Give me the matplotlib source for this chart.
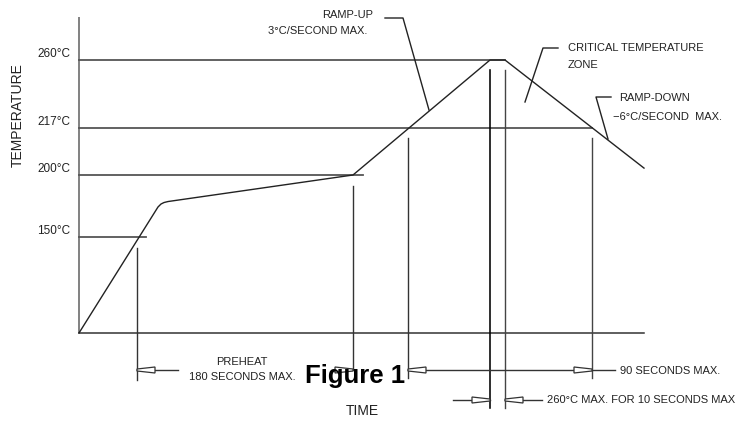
import numpy as np
import matplotlib
matplotlib.use('Agg')
import matplotlib.pyplot as plt
import matplotlib.transforms as mtransforms
from matplotlib.patches import Polygon

# ---------------- data ----------------
# schematic temperature levels and labels
level_temps = [260, 217, 200, 150]
level_labels = ['260°C', '217°C', '200°C', '150°C']
level_ends = [426, 513, 284, 67]          # time (schematic units) where each reference line stops

# reflow profile (schematic time units, °C)
profile_time = [0, 79, 82, 85, 89, 274, 411, 426, 565]
profile_temp = [25, 174.2, 176.6, 177.8, 178.6, 200, 260, 260, 202.5]

# vertical marker times
t_preheat_start, t_preheat_end = 58, 274
t_liq_start, t_liq_end = 329, 513
t_peak_start, t_peak_end = 411, 426

# diagram (non-linear) temperature axis: temperature -> height
scale_temps = [25, 150, 200, 217, 260]
scale_pos = [88, 184, 246, 293, 361]

W, H = 738, 421
fig = plt.figure(figsize=(W / 100, H / 100), dpi=100)
ax = fig.add_axes([0, 0, 1, 1])
plt.rcParams['font.family'] = ['Liberation Sans', 'DejaVu Sans']

T = np.array(scale_temps, float)
P = np.array(scale_pos, float)


def fwd(t):
    t = np.asarray(t, float)
    p = np.interp(t, T, P)
    p = np.where(t < T[0], P[0] + (t - T[0]) * (P[1] - P[0]) / (T[1] - T[0]), p)
    p = np.where(t > T[-1], P[-1] + (t - T[-1]) * (P[-1] - P[-2]) / (T[-1] - T[-2]), p)
    return p


def inv(p):
    p = np.asarray(p, float)
    t = np.interp(p, P, T)
    t = np.where(p < P[0], T[0] + (p - P[0]) * (T[1] - T[0]) / (P[1] - P[0]), t)
    t = np.where(p > P[-1], T[-1] + (p - P[-1]) * (T[-1] - T[-2]) / (P[-1] - P[-2]), t)
    return t


ax.set_yscale('function', functions=(fwd, inv))
ax.set_xlim(-79, W - 79)
ax.set_ylim(float(inv(0)), float(inv(H)))
ax.axis('off')

# pixel-from-top coordinates (layout of annotations)
pixT = mtransforms.Affine2D().scale(1, -1).translate(0, H)
xdata_ypix = mtransforms.blended_transform_factory(ax.transData, pixT)
xpix_ydata = mtransforms.blended_transform_factory(pixT, ax.transData)

TXT = '#222222'
FS = 8

# axes
ax.plot([0, 0], [17, 333], color='#777777', lw=1.3, transform=xdata_ypix, solid_capstyle='butt')
ax.plot([0, profile_time[-1]], [scale_temps[0]] * 2, color='#333333', lw=1.1)

# level lines + labels
for temp, lab, te in zip(level_temps, level_labels, level_ends):
    ax.plot([0, te], [temp, temp], color='#555555', lw=1.3)
    ax.text(70, temp, lab, transform=xpix_ydata, ha='right', va='bottom',
            fontsize=8.5, color=TXT)

# profile
ax.plot(profile_time, profile_temp, color='#222222', lw=1.0)

# vertical markers (x from data, y extents in layout pixels)
markers = [
    (t_preheat_start, 248, 380, '#333333', 1.0),
    (t_preheat_end, 186, 369, '#333333', 1.0),
    (t_liq_start, 138, 378, '#333333', 1.0),
    (t_peak_start, 70, 408, '#000000', 1.15),
    (t_peak_end, 70, 408, '#444444', 1.0),
    (t_liq_end, 138, 378, '#444444', 1.0),
]
for t, y0, y1, c, lw in markers:
    ax.plot([t, t], [y0, y1], color=c, lw=lw, transform=xdata_ypix)


def px(t):
    return ax.transData.transform([[t, 100]])[0, 0]


def arrowhead(tip_x, y, direction):
    # direction: +1 points right (tip at right), -1 points left
    L, hw_base, hw_tip = 18, 3.0, 1.0
    bx = tip_x - direction * L
    poly = Polygon([[tip_x, y - hw_tip], [bx, y - hw_base], [bx, y + hw_base], [tip_x, y + hw_tip]],
                   closed=True, facecolor='white', edgecolor='#333333', lw=0.9,
                   transform=pixT, zorder=3)
    ax.add_patch(poly)


# preheat dimension
y_row = 370
x0 = px(t_preheat_start)
ax.plot([x0, x0 + 41], [y_row, y_row], color='#333333', lw=1.0, transform=pixT)
arrowhead(x0, y_row, -1)
x1 = px(t_preheat_end)
ax.plot([x1 - 20, x1], [y_row, y_row], color='#333333', lw=1.0, transform=pixT)
arrowhead(x1, y_row, +1)
ax.text(242, 362, 'PREHEAT', transform=pixT, ha='center', va='center', fontsize=FS, color=TXT)
ax.text(242, 377, '180 SECONDS MAX.', transform=pixT, ha='center', va='center', fontsize=FS, color=TXT)

# 90 seconds dimension
xa, xb = px(t_liq_start), px(t_liq_end)
ax.plot([xa, xb + 23], [y_row, y_row], color='#333333', lw=1.0, transform=pixT)
arrowhead(xa, y_row, -1)
arrowhead(xb, y_row, +1)
ax.text(620, 371, '90 SECONDS MAX.', transform=pixT, ha='left', va='center', fontsize=FS, color=TXT)

# 10 seconds dimension
y_row2 = 400
xp, xq = px(t_peak_start), px(t_peak_end)
ax.plot([xp - 37, xp], [y_row2, y_row2], color='#333333', lw=1.0, transform=pixT)
arrowhead(xp, y_row2, +1)
ax.plot([xq, xq + 37], [y_row2, y_row2], color='#333333', lw=1.0, transform=pixT)
arrowhead(xq, y_row2, -1)
ax.text(547, 400, '260°C MAX. FOR 10 SECONDS MAX', transform=pixT, ha='left', va='center',
        fontsize=FS, color=TXT)

# leaders and callouts
ax.plot([385, 403, 429], [18, 18, 110], color='#222222', lw=1.0, transform=pixT)
ax.text(373, 15, 'RAMP-UP', transform=pixT, ha='right', va='center', fontsize=FS, color=TXT)
ax.text(367, 31, '3°C/SECOND MAX.', transform=pixT, ha='right', va='center', fontsize=FS, color=TXT)

ax.plot([558, 543, 525], [48, 48, 102], color='#222222', lw=1.0, transform=pixT)
ax.text(568, 48, 'CRITICAL TEMPERATURE', transform=pixT, ha='left', va='center', fontsize=FS, color=TXT)
ax.text(568, 65, 'ZONE', transform=pixT, ha='left', va='center', fontsize=FS, color=TXT)

ax.plot([611, 596, 608], [97, 97, 139], color='#222222', lw=1.0, transform=pixT)
ax.text(619, 98, 'RAMP-DOWN', transform=pixT, ha='left', va='center', fontsize=FS, color=TXT)
ax.text(613, 117, '−6°C/SECOND  MAX.', transform=pixT, ha='left', va='center', fontsize=FS, color=TXT)

# axis titles
ax.text(18, 115, 'TEMPERATURE', transform=pixT, ha='center', va='center', rotation=90,
        fontsize=10, color=TXT)
ax.text(362, 411, 'TIME', transform=pixT, ha='center', va='center', fontsize=10, color=TXT)

# figure caption
ax.text(355, 383, 'Figure 1', transform=pixT, ha='center', va='baseline', fontsize=18.5,
        fontweight='bold', color='black', zorder=5)

fig.savefig('out.png', dpi=100)
